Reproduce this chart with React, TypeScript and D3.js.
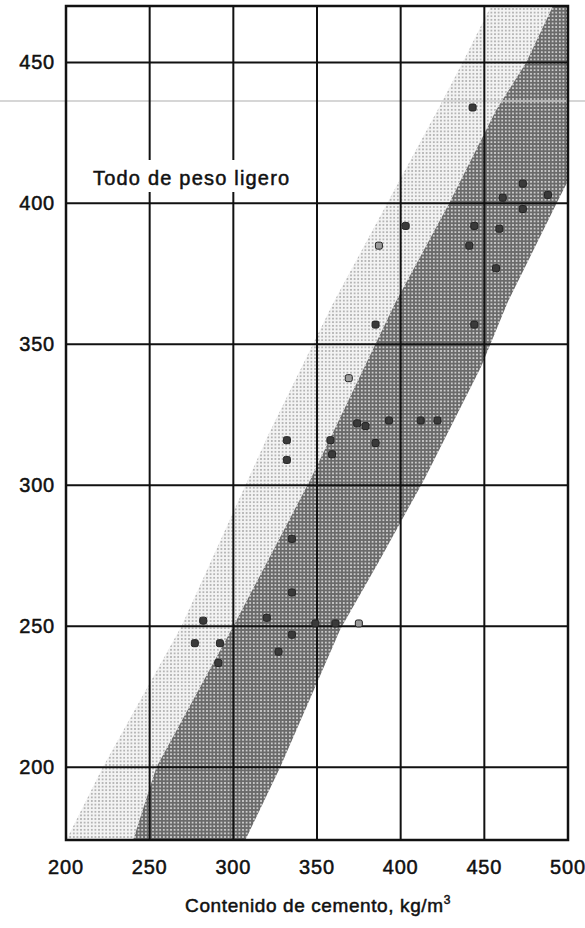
import React, { useEffect, useRef } from 'react';
import * as d3 from 'd3';

// grid / tick values
const xTicks = [200, 250, 300, 350, 400, 450, 500];
const yTicks = [200, 250, 300, 350, 400, 450];

// band boundaries as [cement, y]
const lightLeft = [[200, 174], [222, 200], [269, 250], [321, 318], [360, 365], [422, 433], [437, 450], [454, 470]];
const darkLeft = [[240, 174], [254, 200], [300, 250], [346, 302], [397, 365], [429, 400], [457, 433], [475, 450], [491, 470]];
const darkRight = [[307, 174], [328, 200], [364, 249], [387, 273], [414, 302], [448, 342], [464, 365], [494, 401], [553, 470]];

// measured points
const pointsX = [443, 473, 461, 488, 473, 403, 444, 459, 387, 441, 457, 385, 444, 369, 332, 332, 358, 359, 379, 374, 393, 385, 412, 422, 335, 335, 320, 282, 349, 361, 375, 277, 292, 291, 335, 327];
const pointsY = [434, 407, 402, 403, 398, 392, 392, 391, 385, 385, 377, 357, 357, 338, 316, 309, 316, 311, 321, 322, 323, 315, 323, 323, 281, 262, 253, 252, 251, 251, 251, 244, 244, 237, 247, 241];
const hollow = [8, 13, 30];

const label = 'Todo de peso ligero';
const xTitle = 'Contenido de cemento, kg/m';

export default function App() {
  const ref = useRef<SVGSVGElement>(null);

  useEffect(() => {
    const svg = d3.select(ref.current);
    svg.selectAll('*').remove();

    const left = 66, right = 568, top = 6, bottom = 840;
    const x = d3.scaleLinear().domain([200, 500]).range([left, right]);
    const y = d3.scaleLinear().domain([174.2, 470]).range([bottom, top]);
    const font = 'Liberation Sans, Arial, sans-serif';

    const defs = svg.append('defs');
    const pl = defs.append('pattern').attr('id', 'light').attr('width', 3.6).attr('height', 3.6)
      .attr('patternUnits', 'userSpaceOnUse');
    pl.append('rect').attr('width', 3.6).attr('height', 3.6).attr('fill', '#f3f3f3');
    pl.append('circle').attr('cx', 1.8).attr('cy', 1.8).attr('r', 0.8).attr('fill', '#959595');

    const pd = defs.append('pattern').attr('id', 'dark').attr('width', 3.6).attr('height', 3.6)
      .attr('patternUnits', 'userSpaceOnUse');
    pd.append('rect').attr('width', 3.6).attr('height', 3.6).attr('fill', '#6a6a6a');
    pd.append('circle').attr('cx', 1.8).attr('cy', 1.8).attr('r', 0.95).attr('fill', '#e4e4e4');

    defs.append('clipPath').attr('id', 'plot').append('rect')
      .attr('x', left).attr('y', top).attr('width', right - left).attr('height', bottom - top);

    const line = d3.line<number[]>().x(d => x(d[0])).y(d => y(d[1]));
    const g = svg.append('g').attr('clip-path', 'url(#plot)');

    // light band: between lightLeft and darkLeft
    g.append('path')
      .attr('d', line(lightLeft.concat(darkLeft.slice().reverse())) + 'Z')
      .attr('fill', 'url(#light)');
    // dark band
    g.append('path')
      .attr('d', line(darkLeft.concat(darkRight.slice().reverse())) + 'Z')
      .attr('fill', 'url(#dark)');

    // scan line artifact
    svg.append('line').attr('x1', 0).attr('x2', 585).attr('y1', 101).attr('y2', 101)
      .attr('stroke', '#c8c8c8').attr('stroke-width', 1.5);

    // grid
    svg.selectAll('.vgrid').data(xTicks).enter().append('line')
      .attr('x1', d => x(d)).attr('x2', d => x(d)).attr('y1', top).attr('y2', bottom)
      .attr('stroke', '#111').attr('stroke-width', 2);
    svg.selectAll('.hgrid').data(yTicks).enter().append('line')
      .attr('x1', left).attr('x2', right).attr('y1', d => y(d)).attr('y2', d => y(d))
      .attr('stroke', '#111').attr('stroke-width', 2);
    svg.append('rect').attr('x', left).attr('y', top).attr('width', right - left).attr('height', bottom - top)
      .attr('fill', 'none').attr('stroke', '#111').attr('stroke-width', 2.5);

    // points
    svg.selectAll('.pt').data(pointsX).enter().append('rect')
      .attr('x', (d) => x(d) - 3.5).attr('y', (d, i) => y(pointsY[i]) - 3.5)
      .attr('width', 7).attr('height', 7).attr('rx', 2)
      .attr('fill', (d, i) => hollow.includes(i) ? '#9a9a9a' : '#3a3a3a')
      .attr('stroke', '#222').attr('stroke-width', 1);

    // label with white box
    svg.append('rect').attr('x', 88).attr('y', 160).attr('width', 212).attr('height', 32).attr('fill', '#fff');
    svg.append('text').attr('x', 93).attr('y', 185).text(label)
      .attr('font-family', font).attr('font-size', 20)
      .attr('letter-spacing', 1.2).attr('fill', '#111')
      .attr('stroke', '#111').attr('stroke-width', 0.5);

    // tick labels
    svg.selectAll('.xl').data(xTicks).enter().append('text')
      .attr('x', d => x(d)).attr('y', 874).attr('text-anchor', 'middle').text(d => d)
      .attr('font-family', font).attr('font-size', 20)
      .attr('letter-spacing', 0.8).attr('fill', '#111')
      .attr('stroke', '#111').attr('stroke-width', 0.5);
    svg.selectAll('.yl').data(yTicks).enter().append('text')
      .attr('x', 55).attr('y', d => y(d) + 7).attr('text-anchor', 'end').text(d => d)
      .attr('font-family', font).attr('font-size', 20)
      .attr('letter-spacing', 0.8).attr('fill', '#111')
      .attr('stroke', '#111').attr('stroke-width', 0.5);

    const t = svg.append('text').attr('x', 318).attr('y', 912).attr('text-anchor', 'middle')
      .attr('font-family', font).attr('font-size', 19)
      .attr('letter-spacing', 0.6).attr('fill', '#111')
      .attr('stroke', '#111').attr('stroke-width', 0.5);
    t.append('tspan').text(xTitle);
    t.append('tspan').text('3').attr('font-size', 12).attr('dy', -8);
  }, []);

  return (
    <svg ref={ref} width={585} height={928} viewBox="0 0 585 928"
      style={{ position: 'absolute', left: 0, top: 0, background: '#fff' }} />
  );
}
